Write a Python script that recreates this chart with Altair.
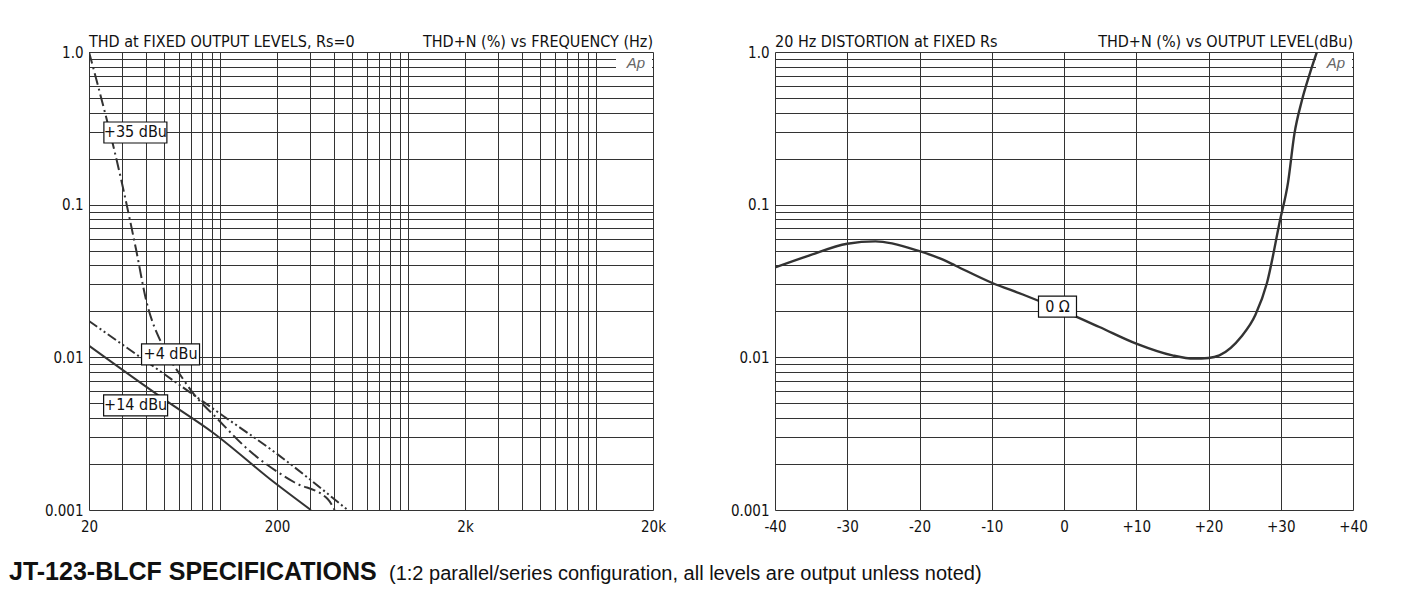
import altair as alt
import pandas as pd

NARROW = "'Liberation Sans Narrow', 'Arial Narrow', 'DejaVu Sans Condensed', sans-serif"
SANS = "'Liberation Sans', Arial, sans-serif"

# ---------------- data: left chart (THD vs frequency) ----------------
f_35 = [20, 30.2, 35.6, 40.2, 49.3, 61.7, 71.2, 96.7, 139.7, 247, 372, 405]
thd_35 = [1.0, 0.132, 0.0508, 0.0239, 0.0119, 0.00755, 0.00588, 0.00394, 0.0025, 0.00152, 0.00118, 0.001]

f_4 = [20, 50, 100, 200, 475]
thd_4 = [0.0173, 0.0078, 0.00426, 0.00233, 0.001]

f_14 = [20, 50, 91, 193, 303]
thd_14 = [0.0119, 0.00532, 0.00322, 0.00152, 0.001]

left_label_text = ["+35 dBu", "+4 dBu", "+14 dBu"]
left_label_f = [35.3, 54.3, 35.4]
left_label_thd = [0.297, 0.01045, 0.00484]

# ---------------- data: right chart (THD vs output level) ----------------
level = [-40, -35.3, -30, -26.1, -20, -17, -15, -10, -5.7, 0, 4.9, 10, 15, 18, 20,
         21.5, 24.5, 26.5, 28.1, 29.9, 31.0, 31.9, 32.9, 34.0, 35.0]
thd_level = [0.0388, 0.0464, 0.0555, 0.0575, 0.0496, 0.0441, 0.0398, 0.0308, 0.0258,
             0.02, 0.0158, 0.0123, 0.0103, 0.0098, 0.0099, 0.0103, 0.0136, 0.019,
             0.0308, 0.079, 0.139, 0.293, 0.476, 0.717, 1.0]
right_label_text = ["0 \u03a9"]
right_label_lvl = [-0.9]
right_label_thd = [0.0215]

# ---------------- grids and tick labels ----------------
freq_grid = [20, 30, 40, 50, 60, 70, 80, 90, 100,
             200, 300, 400, 500, 600, 700, 800, 900, 1000,
             2000, 3000, 4000, 5000, 6000, 7000, 8000, 9000, 10000, 20000]
freq_label_vals = [20, 200, 2000, 20000]
freq_label_text = ["20", "200", "2k", "20k"]

thd_grid = [0.001, 0.002, 0.003, 0.004, 0.005, 0.006, 0.007, 0.008, 0.009,
            0.01, 0.02, 0.03, 0.04, 0.05, 0.06, 0.07, 0.08, 0.09,
            0.1, 0.2, 0.3, 0.4, 0.5, 0.6, 0.7, 0.8, 0.9, 1.0]
thd_label_vals = [1.0, 0.1, 0.01, 0.001]
thd_label_text = ["1.0", "0.1", "0.01", "0.001"]

level_ticks = [-40, -30, -20, -10, 0, 10, 20, 30, 40]
level_labels = ["-40", "-30", "-20", "-10", "0", "+10", "+20", "+30", "+40"]

footer_bold = "JT-123-BLCF SPECIFICATIONS"
footer_note = "(1:2 parallel/series configuration, all levels are output unless noted)"


def label_expr(vals, texts):
    parts = [f"datum.value == {v} ? '{t}'" for v, t in zip(vals, texts)]
    return " : ".join(parts) + " : ''"


GRID = dict(grid=True, gridColor="#333333", gridWidth=1, gridOpacity=1,
            ticks=False, domain=False, labelFont=NARROW, labelFontSize=15,
            labelColor="#111", title=None, labelOverlap=False)

W_L, W_R, H = 564, 578, 458
Y_EXT = 80

x_left_scale = alt.Scale(type="log", domain=[20, 20000], nice=False)
y_scale = alt.Scale(type="log", domain=[0.001, 1], nice=False)
x_right_scale = alt.Scale(domain=[-40, 40], nice=False, zero=False)

X_LEFT_AX = alt.Axis(values=freq_grid, labelExpr=label_expr(freq_label_vals, freq_label_text),
                     labelPadding=9, labelFlush=False, **GRID)
X_RIGHT_AX = alt.Axis(values=level_ticks, labelExpr=label_expr(level_ticks, level_labels),
                      labelPadding=9, labelFlush=False, **GRID)
Y_AX = alt.Axis(values=thd_grid, labelExpr=label_expr(thd_label_vals, thd_label_text),
                labelPadding=6, minExtent=Y_EXT, maxExtent=Y_EXT, labelFlush=False, **GRID)

LINE_COLOR = "#333333"


def curve(fs, ts, dash, width=2.0):
    df = pd.DataFrame({"x": fs, "y": ts})
    kw = dict(clip=True, color=LINE_COLOR, strokeWidth=width, interpolate="monotone")
    if dash:
        kw["strokeDash"] = dash
    return alt.Chart(df).mark_line(**kw).encode(
        x=alt.X("x:Q", scale=x_left_scale, axis=X_LEFT_AX),
        y=alt.Y("y:Q", scale=y_scale, axis=Y_AX),
    )


def box_label(x, y, text, w, xscale, xaxis):
    df = pd.DataFrame({"x": [x], "y": [y], "t": [text]})
    base = alt.Chart(df).encode(
        x=alt.X("x:Q", scale=xscale, axis=xaxis),
        y=alt.Y("y:Q", scale=y_scale, axis=Y_AX),
    )
    rect = base.mark_rect(width=w, height=21, fill="white", stroke="#111", strokeWidth=1.2)
    txt = base.mark_text(font=NARROW, fontSize=16, color="#111", baseline="middle").encode(text="t:N")
    return rect + txt


def header(text, align, xpos):
    df = pd.DataFrame({"t": [text]})
    return alt.Chart(df).mark_text(align=align, baseline="alphabetic", font=NARROW,
                                   fontSize=16, color="#111").encode(
        x=alt.value(xpos), y=alt.value(-5), text="t:N")


def ap_logo(w):
    df = pd.DataFrame({"t": ["Ap"]})
    bg = alt.Chart(df).mark_rect(fill="white").encode(
        x=alt.value(w - 37), x2=alt.value(w - 1), y=alt.value(2), y2=alt.value(17))
    tx = alt.Chart(df).mark_text(align="right", baseline="alphabetic", font=SANS,
                                 fontSize=15, fontStyle="italic", color="#666").encode(
        x=alt.value(w - 8), y=alt.value(16), text="t:N")
    return bg + tx


# ---------------- left chart ----------------
left_layers = [
    ap_logo(W_L),
    curve(f_14, thd_14, None, 2.0),
    curve(f_4, thd_4, [10, 3, 2, 3, 2, 3], 2.0),
    curve(f_35, thd_35, [12, 4, 2, 4], 2.0),
]
widths = [63, 58, 64]
for t, fx, ty, w in zip(left_label_text, left_label_f, left_label_thd, widths):
    left_layers.append(box_label(fx, ty, t, w, x_left_scale, X_LEFT_AX))
left_layers.append(header("THD at FIXED OUTPUT LEVELS, Rs=0", "left", 0))
left_layers.append(header("THD+N (%) vs FREQUENCY (Hz)", "right", W_L))
left = alt.layer(*left_layers).properties(width=W_L, height=H)

# ---------------- right chart ----------------
rdf = pd.DataFrame({"x": level, "y": thd_level})
rcurve = alt.Chart(rdf).mark_line(clip=True, color=LINE_COLOR, strokeWidth=2.4,
                                  interpolate="monotone").encode(
    x=alt.X("x:Q", scale=x_right_scale, axis=X_RIGHT_AX),
    y=alt.Y("y:Q", scale=y_scale, axis=Y_AX),
)
right_layers = [ap_logo(W_R), rcurve]
for t, lx, ty in zip(right_label_text, right_label_lvl, right_label_thd):
    right_layers.append(box_label(lx, ty, t, 38, x_right_scale, X_RIGHT_AX))
right_layers.append(header("20 Hz DISTORTION at FIXED Rs", "left", 0))
right_layers.append(header("THD+N (%) vs OUTPUT LEVEL(dBu)", "right", W_R))
right = alt.layer(*right_layers).properties(width=W_R, height=H)

# ---------------- footer ----------------
foot = pd.DataFrame({"a": [footer_bold], "b": [footer_note]})
fa = alt.Chart(foot).mark_text(align="left", baseline="alphabetic", font=SANS,
                               fontSize=25, fontWeight="bold", color="#111").encode(
    x=alt.value(-Y_EXT), y=alt.value(40), text="a:N")
fb = alt.Chart(foot).mark_text(align="left", baseline="alphabetic", font=SANS,
                               fontSize=20, color="#111").encode(
    x=alt.value(300), y=alt.value(40), text="b:N")
footer = alt.layer(fa, fb).properties(width=1000, height=44,
                                      view=alt.ViewBackground(stroke="transparent"))

top = alt.hconcat(left, right, spacing=28)
chart = alt.vconcat(top, footer, spacing=4).properties(
    padding={"top": 25, "left": 0, "right": 5, "bottom": 5}
).configure_view(stroke="#222", strokeWidth=1.4).configure(background="white")

chart.save("out.html", embed_options={"renderer": "svg", "actions": False})
